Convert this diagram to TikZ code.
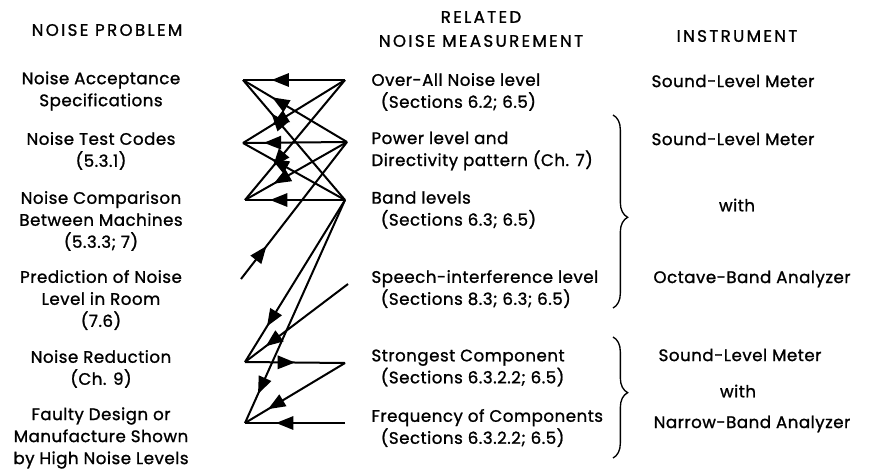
\documentclass[tikz,border=0pt]{standalone}
\usepackage{fontspec}
\setmainfont{Poppins}[LetterSpace=3,FakeBold=1.2]
\usetikzlibrary{arrows.meta,decorations.markings,decorations.pathreplacing}

\tikzset{every picture/.style={line width=0.75pt}}
\tikzset{
  txt/.style={inner sep=0.75pt, font=\fontsize{12.5}{16.5}\selectfont},
  prob/.style={txt, align=center},
  head/.style={inner sep=0.75pt, align=center, font=\fontsize{12.5}{18}\selectfont\addfontfeatures{LetterSpace=14}},
  meas/.style={txt, anchor=west, align=left},
  flow/.style={line width=1.5pt, postaction={decorate},
    decoration={markings, mark=at position #1 with {\arrow{Triangle[length=13pt,width=10pt]}}}},
  flow/.default=0.72,
  grp/.style={line width=1pt, decorate, decoration={brace, amplitude=11pt, aspect=#1}}
}

\begin{document}
\begin{tikzpicture}[x=0.75pt,y=0.75pt,yscale=-1,xscale=1]
\useasboundingbox (0,0) rectangle (878,471);

% Text Node
\node (hprob) at (107,30) [head] {NOISE PROBLEM};
% Text Node
\node (hmeas) at (481,29) [head] {RELATED\\NOISE MEASUREMENT};
% Text Node
\node (hinst) at (737,36) [head] {INSTRUMENT};

% Text Node
\node (prob1) at (101,91) [prob] {Noise Acceptance\\Specifications};
% Text Node
\node (prob2) at (101,151) [prob] {Noise Test Codes\\(5.3.1)};
% Text Node
\node (prob3) at (101,221) [prob] {Noise Comparison\\Between Machines\\(5.3.3; 7)};
% Text Node
\node (prob4) at (101,300) [prob] {Prediction of Noise\\Level in Room\\(7.6)};
% Text Node
\node (prob5) at (101,369) [prob] {Noise Reduction\\(Ch. 9)};
% Text Node
\node (prob6) at (101,438) [prob] {Faulty Design or\\Manufacture Shown\\by High Noise Levels};

% Text Node
\node (meas1) at (370,92) [meas] {Over-All Noise level\\\hspace*{7pt}(Sections 6.2; 6.5)};
% Text Node
\node (meas2) at (370,151) [meas] {Power level and\\Directivity pattern (Ch. 7)};
% Text Node
\node (meas3) at (370,210) [meas] {Band levels\\\hspace*{7pt}(Sections 6.3; 6.5)};
% Text Node
\node (meas4) at (370,289) [meas] {Speech-interference level\\\hspace*{7pt}(Sections 8.3; 6.3; 6.5)};
% Text Node
\node (meas5) at (370,368) [meas] {Strongest Component\\\hspace*{7pt}(Sections 6.3.2.2; 6.5)};
% Text Node
\node (meas6) at (370,428) [meas] {Frequency of Components\\\hspace*{7pt}(Sections 6.3.2.2; 6.5)};

% Text Node
\node (inst1) at (733,81) [txt] {Sound-Level Meter};
% Text Node
\node (inst2) at (733,139) [txt] {Sound-Level Meter};
% Text Node
\node (inst3) at (737,205) [txt] {with};
% Text Node
\node (inst4) at (752,279) [txt] {Octave-Band Analyzer};
% Text Node
\node (inst5) at (740,355) [txt] {Sound-Level Meter};
% Text Node
\node (inst6) at (738,391) [txt] {with};
% Text Node
\node (inst7) at (752,424) [txt] {Narrow-Band Analyzer};

% end points of the connectors
\coordinate (p1) at (243,80);
\coordinate (p2) at (243,143);
\coordinate (p3) at (245,200);
\coordinate (p4) at (241,279);
\coordinate (p5) at (245,362);
\coordinate (p6) at (245,423);
\coordinate (m1) at (345,80);
\coordinate (m2) at (347,142);
\coordinate (m3) at (345,200);
\coordinate (m4) at (348,284);
\coordinate (m5) at (345,363);
\coordinate (m6) at (345,423);

%Straight Lines
\draw [flow]    (m1) -- (p1) ;
\draw [flow]    (m2) -- (p1) ;
\draw [flow]    (m3) -- (p1) ;
\draw [flow]    (m1) -- (p2) ;
\draw [flow=0.8]    (m2) -- (p2) ;
\draw [flow]    (m3) -- (p2) ;
\draw [flow]    (m1) -- (p3) ;
\draw [flow]    (m2) -- (p3) ;
\draw [flow=0.75]    (m3) -- (p3) ;
\draw [flow=0.24]    (p4) -- (m2) ;
\draw [flow=0.78]    (m3) -- (p5) ;
\draw [flow=0.87]    (m3) -- (p6) ;
\draw [flow=0.8]    (m4) -- (p5) ;
\draw [flow=0.5]    (p5) -- (m5) ;
\draw [flow=0.77]    (m5) -- (p6) ;
\draw [flow=0.69]    (m6) -- (p6) ;

%Braces
\draw [grp=0.53]    (613,115) -- (613,308) ;
\draw [grp=0.46]    (613,337) -- (613,458) ;

\end{tikzpicture}
\end{document}
